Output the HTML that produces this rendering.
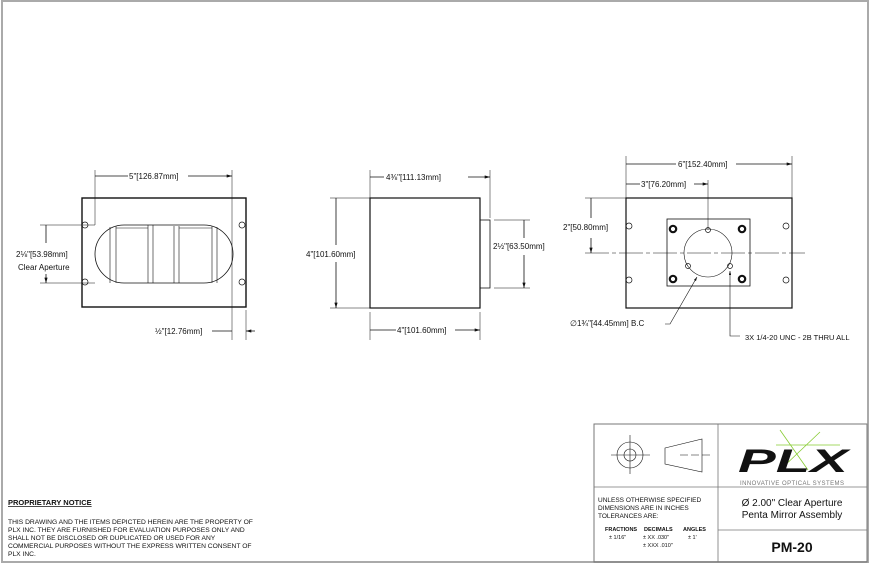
<!DOCTYPE html>
<html><head><meta charset="utf-8"><style>
html,body{margin:0;padding:0;background:#fff}
svg{display:block}
text{font-family:"Liberation Sans",sans-serif;fill:#111}
</style></head><body>
<svg width="870" height="565" viewBox="0 0 870 565" xmlns="http://www.w3.org/2000/svg">
<defs>
<marker id="a" viewBox="0 0 10 6" refX="10" refY="3" markerWidth="8" markerHeight="4" orient="auto-start-reverse"><path d="M0,0L10,3L0,6z" fill="#111"/></marker>
</defs>
<rect x="2" y="1" width="866" height="561" fill="none" stroke="#aaa" stroke-width="2"/>
<g stroke="#111" fill="none" stroke-width="0.8">
<!-- View 1 -->
<rect x="82" y="198" width="164" height="109" stroke-width="1.4"/>
<rect x="95" y="225" width="138" height="58" rx="29" ry="29"/>
<path d="M110,227V283M116,226V283M148,225V283M153,225V283M174,226V283M179,226V283M212,226V283M217,227V283" stroke-width="0.6"/>
<path d="M116,228h32M179,228h33" stroke-width="0.5"/>
<g stroke-width="0.7"><circle cx="85" cy="225" r="3"/><circle cx="85" cy="282" r="3"/><circle cx="242" cy="225" r="3"/><circle cx="242" cy="282" r="3"/></g>
<path d="M95,170V225M232,170V340M246,310V340" stroke-width="0.5"/>
<path d="M95,176H128M188,176H232" marker-end="url(#a)"/>
<path d="M40,225H95M40,283H95" stroke-width="0.5"/>
<path d="M46,243V225M46,274V283" marker-end="url(#a)"/>
<path d="M212,331H232M255,331H246" marker-end="url(#a)"/>
<!-- View 2 -->
<rect x="370" y="198" width="110" height="110" stroke-width="1.2"/>
<rect x="480" y="220" width="10" height="68"/>
<path d="M370,170V198M490,170V218M370,312V340M480,312V340M330,198H370M330,308H370M494,220H530M494,288H530" stroke-width="0.5"/>
<path d="M384,177H370M468,177H490" marker-end="url(#a)"/>
<path d="M336,245V198M336,262V308" marker-end="url(#a)"/>
<path d="M524,238V220M524,255V288" marker-end="url(#a)"/>
<path d="M396,330H370M455,330H480" marker-end="url(#a)"/>
<!-- View 3 -->
<rect x="626" y="198" width="166" height="110" stroke-width="1.2"/>
<rect x="667" y="219" width="83" height="67"/>
<circle cx="708" cy="253" r="24" stroke-width="0.6"/>
<path d="M585,253H805" stroke-width="0.5" stroke-dasharray="24,3,4,3"/>
<g stroke-width="0.7">
<circle cx="708" cy="230" r="2.5"/><circle cx="688" cy="266" r="2.5"/><circle cx="730" cy="266" r="2.5"/>
<circle cx="629" cy="226" r="3"/><circle cx="786" cy="226" r="3"/><circle cx="629" cy="280" r="3"/><circle cx="786" cy="280" r="3"/>
</g>
<g stroke-width="2.2"><circle cx="673" cy="229" r="3.2"/><circle cx="742" cy="229" r="3.2"/><circle cx="673" cy="279" r="3.2"/><circle cx="742" cy="279" r="3.2"/></g>
<g stroke-width="0.6" stroke="#fff"><circle cx="673" cy="229" r="1.5"/><circle cx="742" cy="229" r="1.5"/><circle cx="673" cy="279" r="1.5"/><circle cx="742" cy="279" r="1.5"/></g>
<path d="M626,156V198M792,156V198M708,180V230M585,198H626" stroke-width="0.5"/>
<path d="M676,164H626M736,164H792" marker-end="url(#a)"/>
<path d="M640,184H626M694,184H708" marker-end="url(#a)"/>
<path d="M591,218V198M591,238V253" marker-end="url(#a)"/>
<path d="M665,324H670L697,277" marker-end="url(#a)" stroke-width="0.6"/>
<path d="M740,336H730V271" marker-end="url(#a)" stroke-width="0.6"/>
<!-- title block -->
<rect x="594" y="424" width="273" height="138" stroke="#777" stroke-width="1"/>
<path d="M718,424V562M594,487H867M718,530H867" stroke="#777"/>
<g stroke-width="0.6"><circle cx="630" cy="455" r="13"/><circle cx="630" cy="455" r="6"/><path d="M611,455H650M630,435V474M665,448L702,439V472L665,464Z"/><path d="M680,455H712" stroke-dasharray="8,3"/></g>
<path d="M780,430L808,470M820,432L780,470M776,445H840" stroke="#8c3" stroke-width="0.8"/>
</g>
<text x="738" y="472" font-size="32" font-weight="bold" font-style="italic" textLength="110" lengthAdjust="spacingAndGlyphs">PLX</text>
<text x="740" y="485" font-size="6" style="fill:#777" textLength="104" lengthAdjust="spacing">INNOVATIVE OPTICAL SYSTEMS</text>
<g font-size="8">
<text x="129" y="179">5"[126.87mm]</text>
<text x="16" y="257">2⅛"[53.98mm]</text>
<text x="18" y="270">Clear Aperture</text>
<text x="155" y="334">½"[12.76mm]</text>
<text x="386" y="180">4⅜"[111.13mm]</text>
<text x="306" y="257">4"[101.60mm]</text>
<text x="493" y="249">2½"[63.50mm]</text>
<text x="397" y="333">4"[101.60mm]</text>
<text x="678" y="167">6"[152.40mm]</text>
<text x="641" y="187">3"[76.20mm]</text>
<text x="563" y="230">2"[50.80mm]</text>
<text x="570" y="326">∅1¾"[44.45mm] B.C</text>
<text x="745" y="340" font-size="7.5">3X 1/4-20 UNC - 2B THRU ALL</text>
</g>
<text x="8" y="505" font-size="7.5" font-weight="bold" text-decoration="underline">PROPRIETARY NOTICE</text>
<g font-size="6.7">
<text x="8" y="524">THIS DRAWING AND THE ITEMS DEPICTED HEREIN ARE THE PROPERTY OF</text>
<text x="8" y="532">PLX INC. THEY ARE FURNISHED FOR EVALUATION PURPOSES ONLY AND</text>
<text x="8" y="540">SHALL NOT BE DISCLOSED OR DUPLICATED OR USED FOR ANY</text>
<text x="8" y="548">COMMERCIAL PURPOSES WITHOUT THE EXPRESS WRITTEN CONSENT OF</text>
<text x="8" y="556">PLX INC.</text>
</g>
<g font-size="6.5">
<text x="598" y="502">UNLESS OTHERWISE SPECIFIED</text>
<text x="598" y="510">DIMENSIONS ARE IN INCHES</text>
<text x="598" y="518">TOLERANCES ARE:</text>
</g>
<g font-size="5.5">
<text x="605" y="531" font-weight="bold">FRACTIONS</text>
<text x="644" y="531" font-weight="bold">DECIMALS</text>
<text x="683" y="531" font-weight="bold">ANGLES</text>
<text x="609" y="539">± 1/16"</text>
<text x="643" y="539">± XX  .030"</text>
<text x="688" y="539">± 1'</text>
<text x="643" y="547">± XXX .010"</text>
</g>
<text x="792" y="506" font-size="10" text-anchor="middle">Ø 2.00" Clear Aperture</text>
<text x="792" y="518" font-size="10" text-anchor="middle">Penta Mirror Assembly</text>
<text x="792" y="552" font-size="14" font-weight="bold" text-anchor="middle">PM-20</text>
</svg>
</body></html>
